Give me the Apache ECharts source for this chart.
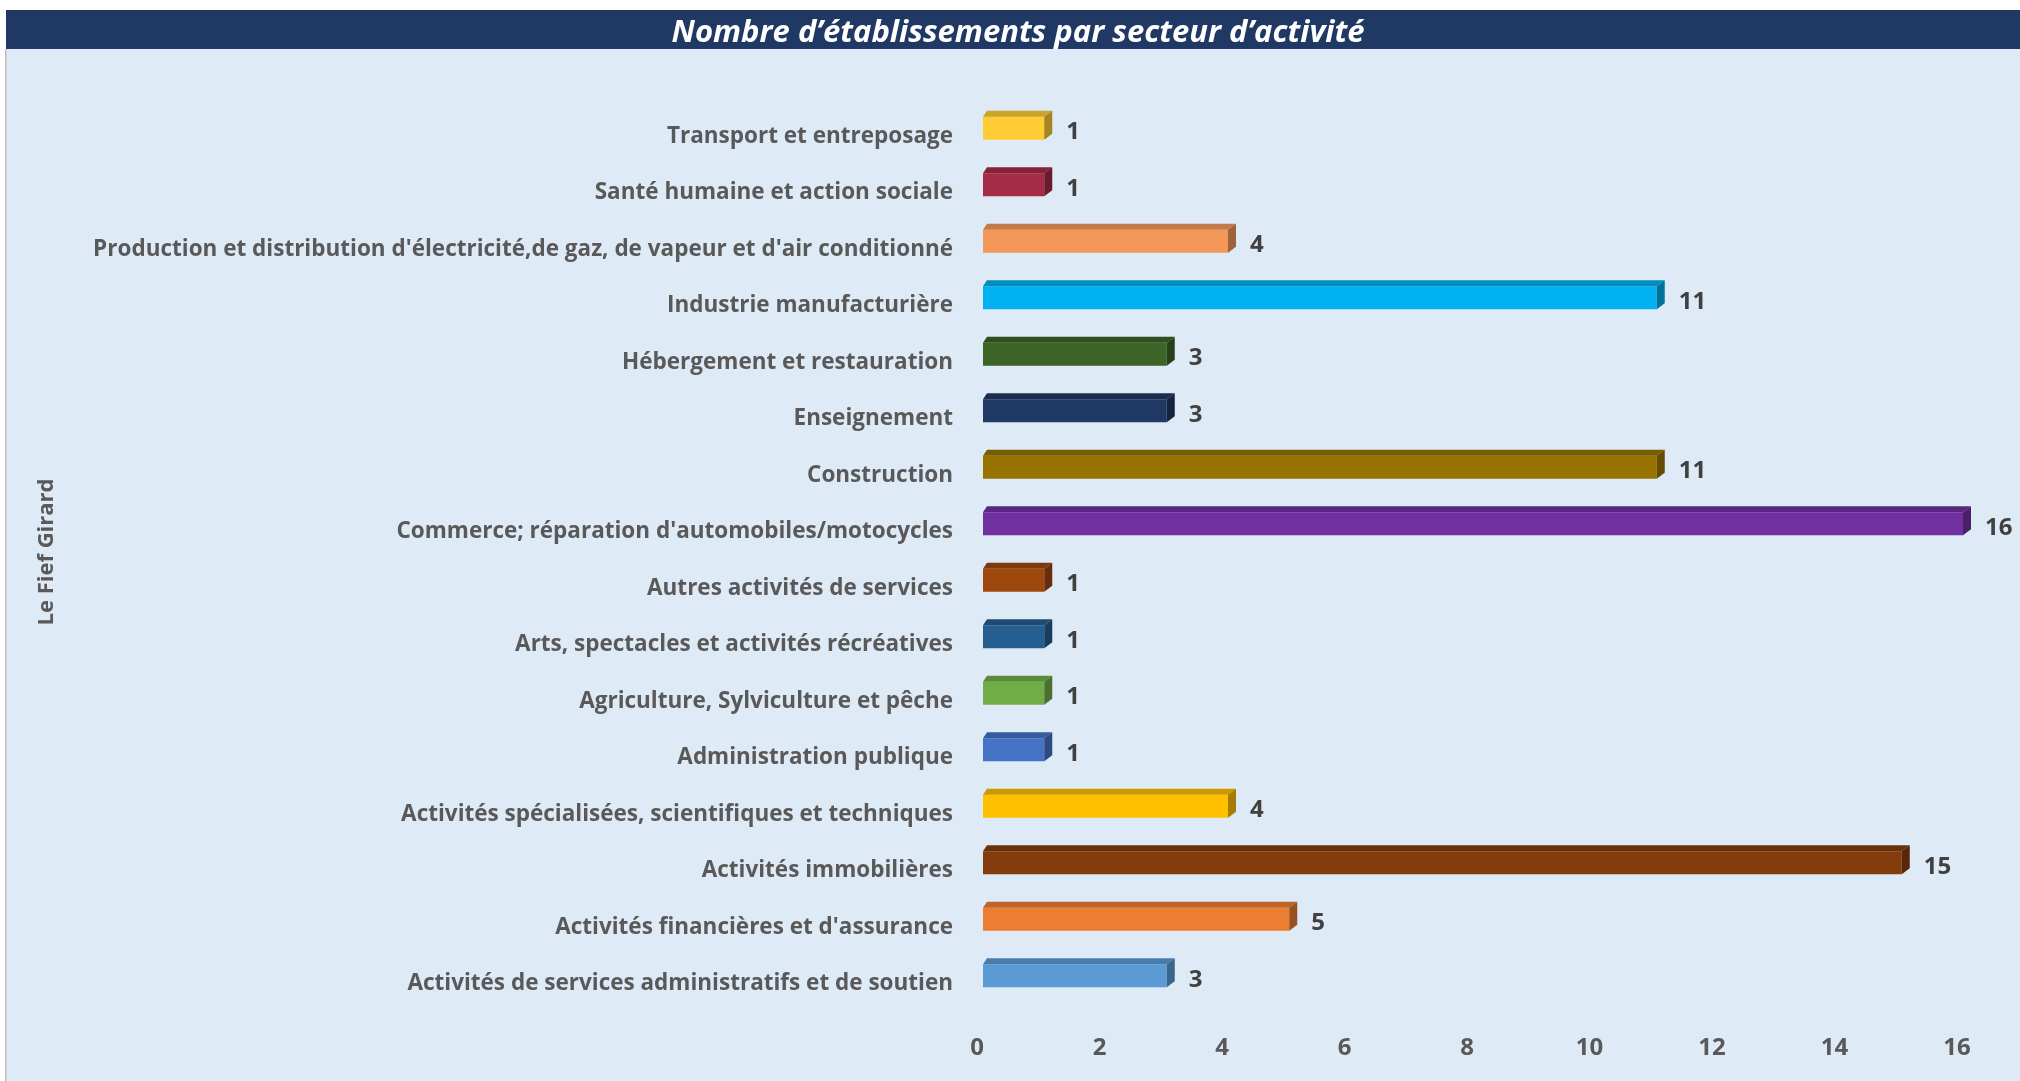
<!DOCTYPE html>
<html>
<head>
<meta charset="utf-8">
<script src="https://cdn.jsdelivr.net/npm/echarts@6/dist/echarts.min.js"></script>
<style>
  html, body { margin: 0; padding: 0; background: #ffffff; }
  #chart { width: 2020px; height: 1081px; }
</style>
</head>
<body>
<div id="chart"></div>
<script>
// Sectors, listed from the bottom of the axis to the top
const categories = [
  "Activités de services administratifs et de soutien",
  "Activités financières et d'assurance",
  "Activités immobilières",
  "Activités spécialisées, scientifiques et techniques",
  "Administration publique",
  "Agriculture, Sylviculture et pêche",
  "Arts, spectacles et activités récréatives",
  "Autres activités de services",
  "Commerce; réparation d'automobiles/motocycles",
  "Construction",
  "Enseignement",
  "Hébergement et restauration",
  "Industrie manufacturière",
  "Production et distribution d'électricité,de gaz, de vapeur et d'air conditionné",
  "Santé humaine et action sociale",
  "Transport et entreposage"
];

// Number of establishments per sector
const counts = [3, 5, 15, 4, 1, 1, 1, 1, 16, 11, 3, 3, 11, 4, 1, 1];

// Bar colour per sector
const barColors = [
  "#5B9BD5", "#ED7D31", "#843C0C", "#FFC000", "#4472C4", "#70AD47",
  "#255E91", "#9E480E", "#7030A0", "#997300", "#203864", "#3B6426",
  "#00B0F0", "#F4985A", "#A52A45", "#FFCD33"
];

const xTicks = { min: 0, max: 16, interval: 2 };
const titleText = "Nombre d’établissements par secteur d’activité";
const groupName = "Le Fief Girard";

function shade(hex, f) {
  const n = parseInt(hex.slice(1), 16);
  const r = Math.round(((n >> 16) & 255) * f);
  const g = Math.round(((n >> 8) & 255) * f);
  const b = Math.round((n & 255) * f);
  return "rgb(" + r + "," + g + "," + b + ")";
}

const FONT = "'Open Sans', Lato, sans-serif";
const FRONT_H = 23;   // front face thickness
const DEPTH_X = 8;    // depth offset at the bar end
const DEPTH_XL = 4;   // depth offset at the bar base
const DEPTH_Y = 6;

// Draws a bar as a small extruded block: front, top and end faces, plus its value
function renderBlock(params, api) {
  const v = api.value(0);
  const c = api.value(1);
  const end = api.coord([v, c]);
  const start = api.coord([0, c]);
  const x0 = start[0], x1 = end[0];
  const top = end[1] - FRONT_H / 2;
  const bot = end[1] + FRONT_H / 2;
  const col = barColors[params.dataIndex];
  return {
    type: "group",
    children: [
      { type: "rect", shape: { x: x0, y: top, width: x1 - x0, height: FRONT_H },
        style: { fill: col } },
      { type: "polygon",
        shape: { points: [[x0, top], [x0 + DEPTH_XL, top - DEPTH_Y], [x1 + DEPTH_X, top - DEPTH_Y], [x1, top]] },
        style: { fill: shade(col, 0.8) } },
      { type: "polygon",
        shape: { points: [[x1, top], [x1 + DEPTH_X, top - DEPTH_Y], [x1 + DEPTH_X, bot - DEPTH_Y], [x1, bot]] },
        style: { fill: shade(col, 0.65) } },
      { type: "text",
        style: { text: String(v), x: x1 + DEPTH_X + 14, y: end[1] + 4,
                 align: "left", verticalAlign: "middle",
                 font: "bold 24px " + FONT, fill: "#404040" } }
    ]
  };
}

const chart = echarts.init(document.getElementById("chart"), null, { renderer: "canvas" });

chart.setOption({
  backgroundColor: "#ffffff",
  animation: false,
  graphic: [
    { type: "rect", z: -10, shape: { x: 6, y: 49, width: 2014, height: 1032 },
      style: { fill: "#DEEAF6" } },
    { type: "rect", z: -10, shape: { x: 5, y: 49, width: 1.5, height: 1032 },
      style: { fill: "#BFBFBF" } },
    { type: "rect", z: -10, shape: { x: 6, y: 10, width: 2014, height: 39 },
      style: { fill: "#1F3864" } }
  ],
  title: {
    text: titleText,
    left: 1013,
    top: 10,
    textAlign: "center",
    textStyle: { color: "#ffffff", fontFamily: FONT, fontSize: 31,
                 fontWeight: "bold", fontStyle: "italic", lineHeight: 36 }
  },
  grid: { left: 983, right: 57, top: 100, bottom: 77, containLabel: false },
  xAxis: {
    type: "value",
    min: xTicks.min, max: xTicks.max, interval: xTicks.interval,
    axisLine: { show: false },
    axisTick: { show: false },
    splitLine: { show: false },
    axisLabel: { color: "#595959", fontFamily: FONT, fontWeight: "bold",
                 fontSize: 24, margin: 32, padding: [0, 12, 0, 0] }
  },
  yAxis: {
    type: "category",
    data: categories,
    name: groupName,
    nameLocation: "middle",
    nameRotate: 90,
    nameGap: 925,
    nameTextStyle: { color: "#595959", fontFamily: FONT, fontWeight: "bold", fontSize: 22 },
    axisLine: { show: false },
    axisTick: { show: false },
    splitLine: { show: false },
    axisLabel: { color: "#595959", fontFamily: FONT, fontWeight: "bold",
                 fontSize: 22.5, margin: 30, verticalAlign: "top", lineHeight: 16 }
  },
  series: [{
    type: "custom",
    renderItem: renderBlock,
    encode: { x: 0, y: 1 },
    data: counts.map((v, i) => [v, i])
  }]
});
</script>
</body>
</html>
